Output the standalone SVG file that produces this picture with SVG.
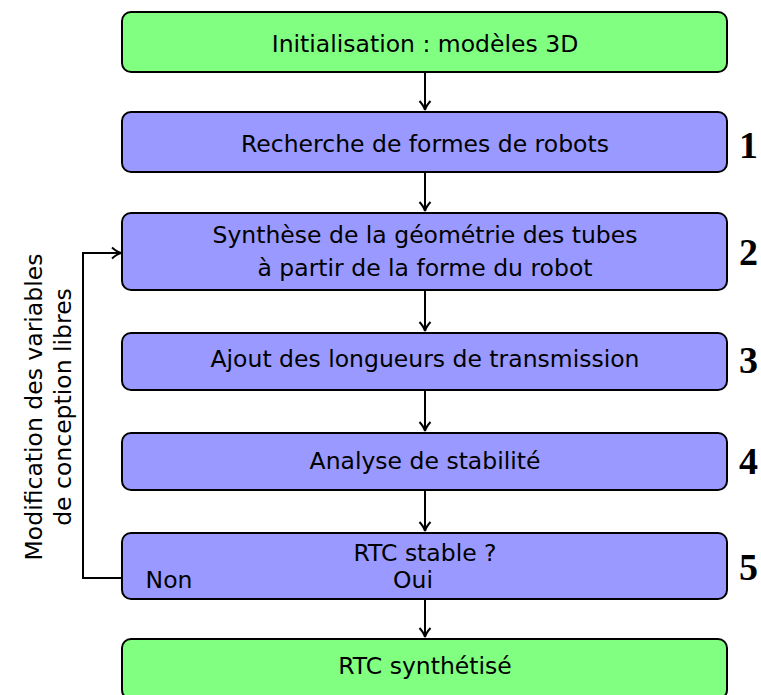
<svg xmlns="http://www.w3.org/2000/svg" width="761" height="695" viewBox="0 0 761 695">
<style>
.g{fill:#80ff80;stroke:#000;stroke-width:2}
.b{fill:#9999ff;stroke:#000;stroke-width:2}
.t{font-family:"DejaVu Sans","Liberation Sans",sans-serif;font-size:23.5px;fill:#000;text-anchor:middle}
.n{font-family:"Liberation Serif","Times New Roman",serif;font-size:38px;font-weight:bold;fill:#000}
.c{fill:none;stroke:#000;stroke-width:2}
</style>
<defs>
<marker id="ah" markerWidth="14" markerHeight="14" refX="10" refY="7" orient="auto" markerUnits="userSpaceOnUse">
<path d="M2,1.5 Q7,6 11,7 Q7,8 2,12.5" fill="none" stroke="#000" stroke-width="2"/>
</marker>
</defs>
<rect width="761" height="695" fill="#fff"/>
<g id="connectors">
<line class="c" x1="425" y1="72" x2="425" y2="109" marker-end="url(#ah)"/>
<line class="c" x1="425" y1="172" x2="425" y2="210" marker-end="url(#ah)"/>
<line class="c" x1="425" y1="291" x2="425" y2="330" marker-end="url(#ah)"/>
<line class="c" x1="425" y1="391" x2="425" y2="430" marker-end="url(#ah)"/>
<line class="c" x1="425" y1="491" x2="425" y2="530" marker-end="url(#ah)"/>
<line class="c" x1="425" y1="599" x2="425" y2="636" marker-end="url(#ah)"/>
<polyline class="c" points="122,578 83,578 83,253 120,253" marker-end="url(#ah)"/>
<text class="t" transform="translate(42,407) rotate(-90)">Modification des variables</text>
<text class="t" transform="translate(71,407) rotate(-90)">de conception libres</text>
</g>
<g id="init">
<rect class="g" x="122" y="12" width="605" height="60" rx="9"/>
<text class="t" x="425" y="52">Initialisation : modèles 3D</text>
</g>
<g id="step1">
<rect class="b" x="122" y="112" width="605" height="60" rx="9"/>
<text class="t" x="425" y="152">Recherche de formes de robots</text>
<text class="n" x="739" y="158">1</text>
</g>
<g id="step2">
<rect class="b" x="122" y="213" width="605" height="77" rx="9"/>
<text class="t" x="425" y="243">Synthèse de la géométrie des tubes</text>
<text class="t" x="425" y="276">à partir de la forme du robot</text>
<text class="n" x="739" y="265">2</text>
</g>
<g id="step3">
<rect class="b" x="122" y="333" width="605" height="57" rx="9"/>
<text class="t" x="425" y="367">Ajout des longueurs de transmission</text>
<text class="n" x="739" y="373">3</text>
</g>
<g id="step4">
<rect class="b" x="122" y="433" width="605" height="57" rx="9"/>
<text class="t" x="425" y="469">Analyse de stabilité</text>
<text class="n" x="739" y="474">4</text>
</g>
<g id="step5">
<rect class="b" x="122" y="533" width="605" height="66" rx="9"/>
<text class="t" x="425" y="561">RTC stable ?</text>
<text class="t" x="169" y="588">Non</text>
<text class="t" x="413" y="588">Oui</text>
<text class="n" x="739" y="580">5</text>
</g>
<g id="end">
<rect class="g" x="122" y="639" width="605" height="60" rx="9"/>
<text class="t" x="425" y="674">RTC synthétisé</text>
</g>
</svg>
